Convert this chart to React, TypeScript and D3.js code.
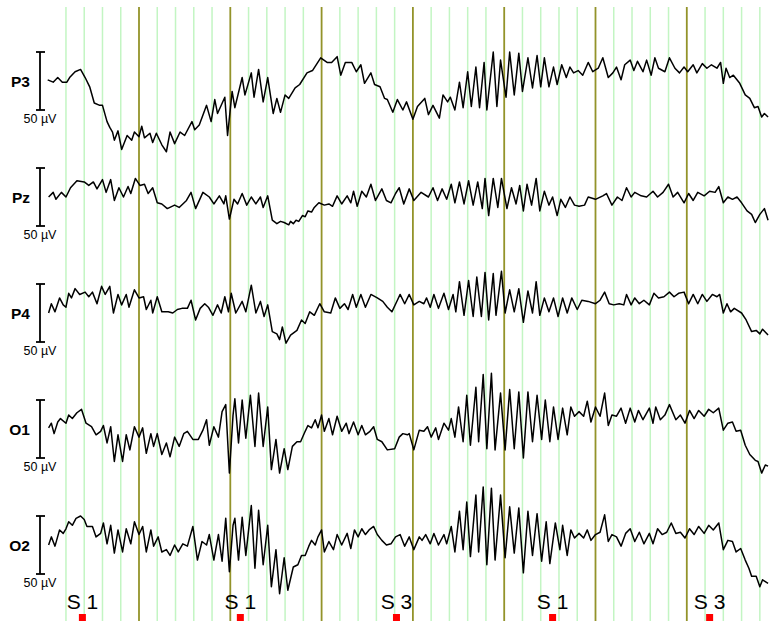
import * as d3 from "d3";

type Pt = [number, number]; // [seconds, µV]

const channelNames = ["P3", "Pz", "P4", "O1", "O2"];

const P3: Pt[] = [[0,1],[0.06,-1],[0.11,3],[0.16,-1],[0.21,-1],[0.24,3],[0.30,8],[0.36,10],[0.41,3],[0.46,-5],[0.51,-19],[0.57,-21],[0.60,-21],[0.65,-35],[0.68,-40],[0.71,-44],[0.73,-51],[0.77,-43],[0.81,-59],[0.87,-47],[0.92,-51],[0.95,-44],[1.00,-48],[1.03,-39],[1.06,-49],[1.12,-45],[1.15,-53],[1.19,-45],[1.25,-55],[1.30,-61],[1.34,-44],[1.39,-54],[1.45,-44],[1.50,-47],[1.58,-35],[1.61,-42],[1.66,-38],[1.74,-21],[1.79,-35],[1.83,-16],[1.86,-28],[1.94,-14],[1.97,-47],[2.02,-9],[2.05,-23],[2.13,3],[2.16,-12],[2.23,7],[2.26,-14],[2.31,10],[2.36,-18],[2.41,3],[2.47,-28],[2.51,-15],[2.55,-27],[2.60,-12],[2.64,-15],[2.71,-6],[2.76,-3],[2.84,7],[2.90,9],[2.99,20],[3.06,16],[3.11,16],[3.17,21],[3.21,5],[3.26,16],[3.33,16],[3.38,8],[3.43,14],[3.47,-2],[3.54,7],[3.58,-3],[3.64,-5],[3.69,-15],[3.72,-16],[3.78,-27],[3.83,-16],[3.89,-25],[3.93,-18],[4.00,-33],[4.05,-22],[4.13,-15],[4.17,-29],[4.22,-21],[4.29,-32],[4.33,-12],[4.38,-18],[4.41,-14],[4.46,-25],[4.51,-1],[4.55,-23],[4.60,8],[4.64,-22],[4.69,12],[4.73,-23],[4.78,16],[4.81,-25],[4.88,25],[4.92,-22],[4.96,18],[5.02,-14],[5.06,25],[5.11,-12],[5.16,24],[5.20,-9],[5.26,20],[5.31,-6],[5.36,22],[5.40,-5],[5.44,20],[5.49,-5],[5.54,12],[5.58,-3],[5.63,14],[5.68,3],[5.72,12],[5.76,7],[5.81,9],[5.86,5],[5.92,16],[5.97,8],[6.03,11],[6.08,20],[6.14,3],[6.19,7],[6.23,12],[6.28,1],[6.32,14],[6.38,18],[6.42,9],[6.46,17],[6.52,8],[6.56,18],[6.61,5],[6.65,20],[6.69,11],[6.76,8],[6.81,20],[6.87,11],[6.92,7],[6.97,12],[7.01,8],[7.07,14],[7.11,7],[7.17,15],[7.22,11],[7.27,14],[7.33,11],[7.37,16],[7.40,-2],[7.43,11],[7.47,3],[7.51,5],[7.58,-2],[7.64,-12],[7.69,-15],[7.74,-23],[7.78,-22],[7.82,-31],[7.85,-28],[7.89,-31]];

const Pz: Pt[] = [[0.01,0],[0.06,4],[0.09,-2],[0.15,4],[0.20,0],[0.25,8],[0.32,14],[0.40,13],[0.45,10],[0.50,13],[0.54,7],[0.60,15],[0.64,4],[0.69,15],[0.73,-3],[0.78,8],[0.83,0],[0.88,9],[0.91,3],[0.96,16],[1.01,10],[1.06,11],[1.10,3],[1.15,8],[1.20,-5],[1.25,-6],[1.31,-10],[1.39,-7],[1.44,-9],[1.52,-3],[1.57,4],[1.62,-10],[1.70,4],[1.77,0],[1.82,-6],[1.88,1],[1.93,-6],[1.95,1],[1.99,-19],[2.04,-2],[2.08,-6],[2.13,3],[2.18,-7],[2.23,0],[2.28,-6],[2.33,0],[2.36,-9],[2.41,1],[2.46,-20],[2.51,-23],[2.55,-21],[2.59,-22],[2.64,-24],[2.66,-21],[2.69,-23],[2.72,-20],[2.75,-21],[2.79,-16],[2.82,-17],[2.85,-12],[2.89,-13],[2.92,-9],[2.97,-5],[3.03,-7],[3.08,-6],[3.12,-8],[3.17,1],[3.22,-6],[3.28,1],[3.32,-5],[3.35,5],[3.39,-8],[3.44,5],[3.49,0],[3.54,11],[3.59,-3],[3.66,7],[3.71,-3],[3.76,-5],[3.81,3],[3.85,8],[3.90,-6],[3.96,7],[4.01,-3],[4.09,4],[4.17,0],[4.22,8],[4.27,-3],[4.32,7],[4.37,-2],[4.42,11],[4.46,-5],[4.51,13],[4.56,-6],[4.61,14],[4.66,-7],[4.71,13],[4.76,-10],[4.79,16],[4.83,-16],[4.88,16],[4.93,-9],[4.97,16],[5.03,-10],[5.08,8],[5.13,-6],[5.17,10],[5.21,-12],[5.25,11],[5.30,-7],[5.35,16],[5.39,-12],[5.44,5],[5.49,-7],[5.53,0],[5.58,-16],[5.62,-2],[5.67,-9],[5.72,0],[5.77,-7],[5.82,-8],[5.88,-7],[5.92,0],[6.00,-2],[6.08,1],[6.12,3],[6.18,-7],[6.24,0],[6.29,-3],[6.34,8],[6.39,0],[6.43,4],[6.50,1],[6.56,0],[6.63,5],[6.68,0],[6.74,4],[6.80,11],[6.85,0],[6.90,4],[6.97,-5],[7.02,3],[7.07,-3],[7.12,4],[7.19,1],[7.25,5],[7.31,4],[7.35,9],[7.40,-5],[7.45,0],[7.50,-2],[7.55,0],[7.60,-5],[7.66,-12],[7.71,-15],[7.75,-22],[7.80,-15],[7.85,-10],[7.89,-20]];

const P4: Pt[] = [[0.01,0],[0.04,8],[0.08,1],[0.13,13],[0.17,7],[0.20,5],[0.23,17],[0.26,13],[0.30,21],[0.35,16],[0.41,18],[0.45,14],[0.49,18],[0.54,8],[0.59,23],[0.63,16],[0.68,23],[0.72,0],[0.77,16],[0.81,7],[0.86,16],[0.89,5],[0.95,20],[1.00,13],[1.05,14],[1.08,3],[1.13,11],[1.15,0],[1.20,14],[1.25,1],[1.32,1],[1.37,0],[1.42,3],[1.47,4],[1.53,4],[1.57,11],[1.62,-6],[1.67,4],[1.72,8],[1.76,5],[1.81,-2],[1.86,7],[1.90,0],[1.94,14],[1.98,1],[2.01,17],[2.06,0],[2.13,10],[2.17,1],[2.23,24],[2.28,0],[2.33,10],[2.37,-3],[2.41,7],[2.46,-16],[2.51,-18],[2.54,-23],[2.57,-12],[2.61,-26],[2.66,-19],[2.73,-15],[2.78,-6],[2.82,-9],[2.87,1],[2.92,-2],[2.98,8],[3.03,1],[3.10,0],[3.15,13],[3.20,4],[3.25,8],[3.29,3],[3.34,16],[3.38,5],[3.43,16],[3.48,5],[3.54,16],[3.61,13],[3.67,10],[3.72,5],[3.77,1],[3.83,11],[3.86,16],[3.91,8],[3.96,16],[4.01,7],[4.07,10],[4.12,8],[4.15,13],[4.19,5],[4.23,16],[4.28,4],[4.34,17],[4.39,3],[4.44,16],[4.47,1],[4.51,27],[4.56,-2],[4.61,28],[4.66,-3],[4.70,31],[4.75,-3],[4.79,35],[4.83,-6],[4.88,34],[4.91,-2],[4.97,36],[5.01,0],[5.06,20],[5.11,1],[5.16,21],[5.21,-8],[5.26,19],[5.31,0],[5.35,27],[5.39,-2],[5.44,13],[5.49,1],[5.54,13],[5.59,-3],[5.64,13],[5.69,0],[5.74,13],[5.80,3],[5.85,11],[5.92,10],[6.00,8],[6.05,11],[6.10,18],[6.15,8],[6.20,7],[6.26,8],[6.31,7],[6.34,16],[6.39,7],[6.43,13],[6.48,8],[6.53,11],[6.59,7],[6.64,17],[6.69,13],[6.75,14],[6.81,18],[6.86,14],[6.91,17],[6.97,18],[7.02,8],[7.07,16],[7.12,8],[7.17,16],[7.22,10],[7.28,16],[7.33,14],[7.36,16],[7.40,0],[7.44,8],[7.48,1],[7.52,4],[7.60,0],[7.65,-6],[7.71,-16],[7.76,-15],[7.80,-18],[7.83,-14],[7.89,-19]];

const O1: Pt[] = [[0.01,1],[0.04,5],[0.07,-4],[0.11,6],[0.14,9],[0.20,5],[0.23,12],[0.27,9],[0.32,14],[0.37,17],[0.42,5],[0.48,2],[0.53,-5],[0.58,-2],[0.61,3],[0.65,-12],[0.69,2],[0.73,-28],[0.77,-5],[0.82,-28],[0.86,-5],[0.90,-18],[0.95,2],[1.00,-7],[1.04,1],[1.08,-21],[1.13,-4],[1.16,-15],[1.20,-4],[1.25,-22],[1.30,-12],[1.34,-24],[1.39,-7],[1.44,-15],[1.49,-4],[1.53,-2],[1.59,-9],[1.65,-9],[1.70,-1],[1.74,8],[1.77,-14],[1.82,2],[1.87,-7],[1.91,15],[1.95,21],[1.99,-38],[2.03,12],[2.05,26],[2.09,-12],[2.13,25],[2.17,-8],[2.22,29],[2.27,-15],[2.31,31],[2.36,-15],[2.41,19],[2.45,-35],[2.50,-9],[2.54,-38],[2.59,-17],[2.63,-35],[2.68,-15],[2.73,-11],[2.77,-11],[2.82,-2],[2.85,3],[2.89,1],[2.93,8],[2.96,1],[3.00,12],[3.03,-2],[3.08,9],[3.12,-5],[3.17,11],[3.22,-2],[3.27,5],[3.30,-4],[3.35,6],[3.40,-5],[3.44,3],[3.48,-5],[3.53,-2],[3.57,2],[3.61,-9],[3.66,-11],[3.72,-18],[3.80,-17],[3.85,-7],[3.89,-4],[3.94,-5],[3.96,-4],[4.01,-18],[4.07,-1],[4.12,-2],[4.16,2],[4.20,-7],[4.25,1],[4.28,-9],[4.34,5],[4.39,-1],[4.42,9],[4.46,-7],[4.50,19],[4.55,-11],[4.59,29],[4.63,-14],[4.69,36],[4.72,-11],[4.77,47],[4.81,-17],[4.86,48],[4.90,-18],[4.96,31],[5.01,-18],[5.06,34],[5.11,-17],[5.16,32],[5.21,-25],[5.26,32],[5.31,-11],[5.36,29],[5.41,-9],[5.45,25],[5.50,-11],[5.54,19],[5.59,-9],[5.64,18],[5.69,-5],[5.73,19],[5.77,11],[5.82,15],[5.87,11],[5.91,24],[5.95,6],[6.00,19],[6.05,11],[6.10,31],[6.14,3],[6.18,12],[6.23,11],[6.28,18],[6.33,5],[6.38,18],[6.43,6],[6.47,16],[6.52,8],[6.59,18],[6.63,5],[6.66,19],[6.71,8],[6.76,12],[6.81,21],[6.88,8],[6.93,12],[6.98,5],[7.03,16],[7.08,9],[7.13,16],[7.19,11],[7.24,17],[7.29,14],[7.35,18],[7.40,-1],[7.45,5],[7.50,6],[7.54,-2],[7.59,-1],[7.64,-14],[7.69,-22],[7.75,-27],[7.78,-28],[7.82,-38],[7.86,-31],[7.89,-32]];

const O2: Pt[] = [[0.01,0],[0.04,7],[0.08,-1],[0.13,13],[0.17,10],[0.20,14],[0.23,20],[0.27,17],[0.31,23],[0.36,25],[0.40,22],[0.43,16],[0.49,16],[0.53,7],[0.58,10],[0.61,19],[0.65,1],[0.69,17],[0.73,-7],[0.77,13],[0.82,-6],[0.86,14],[0.91,1],[0.95,20],[1.00,9],[1.04,16],[1.08,-6],[1.13,13],[1.16,-1],[1.21,7],[1.25,-6],[1.30,-4],[1.34,-9],[1.39,0],[1.43,-6],[1.48,1],[1.53,-1],[1.59,16],[1.64,-13],[1.69,3],[1.74,0],[1.77,9],[1.82,-13],[1.87,9],[1.91,-14],[1.95,23],[1.99,-23],[2.03,17],[2.05,23],[2.09,-13],[2.13,24],[2.17,-9],[2.23,34],[2.27,-20],[2.31,30],[2.36,-17],[2.41,17],[2.45,-36],[2.50,-4],[2.54,-42],[2.59,-11],[2.63,-39],[2.69,-19],[2.74,-17],[2.78,-9],[2.82,-9],[2.86,-1],[2.89,4],[2.93,0],[2.96,7],[3.00,13],[3.03,-6],[3.08,3],[3.13,-4],[3.17,9],[3.22,0],[3.28,10],[3.32,-3],[3.36,13],[3.40,7],[3.44,14],[3.48,9],[3.52,13],[3.57,16],[3.61,9],[3.66,4],[3.71,0],[3.76,1],[3.81,7],[3.86,9],[3.91,-1],[3.96,7],[4.01,-4],[4.07,7],[4.10,4],[4.14,9],[4.19,1],[4.23,10],[4.28,0],[4.34,9],[4.37,1],[4.42,16],[4.46,-6],[4.51,29],[4.55,-4],[4.59,37],[4.63,-10],[4.69,43],[4.72,-6],[4.77,50],[4.81,-17],[4.86,49],[4.90,-13],[4.96,43],[5.01,-11],[5.06,33],[5.11,-7],[5.16,32],[5.21,-24],[5.26,29],[5.31,-9],[5.36,27],[5.41,-14],[5.46,20],[5.50,-16],[5.56,19],[5.61,-4],[5.64,17],[5.69,-9],[5.73,13],[5.77,6],[5.82,10],[5.87,6],[5.91,13],[5.95,4],[6.00,9],[6.05,11],[6.10,26],[6.14,3],[6.18,9],[6.23,7],[6.28,-1],[6.33,10],[6.38,14],[6.43,3],[6.48,11],[6.53,1],[6.59,10],[6.63,1],[6.68,14],[6.73,9],[6.78,11],[6.83,19],[6.88,10],[6.93,11],[6.98,6],[7.03,14],[7.08,9],[7.13,16],[7.19,10],[7.24,17],[7.29,13],[7.35,19],[7.40,-4],[7.45,4],[7.50,3],[7.54,-6],[7.59,-3],[7.64,-13],[7.68,-20],[7.71,-27],[7.76,-27],[7.80,-36],[7.83,-30],[7.89,-33]];

const channelData = [P3, Pz, P4, O1, O2];

// stimulus markers
const markerTimes = [0.38, 2.11, 3.82, 5.53, 7.25];
const markerLabels = ["S 1", "S 1", "S 3", "S 1", "S 3"];

const scaleBarUV = 50;

export default function App() {
  const W = 769, H = 621;
  const x = d3.scaleLinear().domain([0, 8]).range([47.7, 47.7 + 8 * 91.3]);
  const centers = channelNames.map((_, i) => 81 + i * 116);
  const gridTicks = d3.range(1, 40).map((k) => k * 0.2);

  return (
    <div style={{ position: "fixed", left: 0, top: 0 }}>
      <svg width={W} height={H} style={{ display: "block", background: "#fff" }} fontFamily="Liberation Sans, Arial, sans-serif">
        {gridTicks.map((t, k) => {
          const major = (k + 1) % 5 === 0;
          return (
            <line key={k} x1={x(t)} x2={x(t)} y1={7} y2={H}
              stroke={major ? "#93932a" : "#c3f5c3"} strokeWidth={major ? 1.8 : 1.5} />
          );
        })}
        {channelData.map((data, i) => {
          const c = centers[i];
          const y = d3.scaleLinear().domain([-scaleBarUV / 2, scaleBarUV / 2]).range([c + 29, c - 29]);
          const line = d3.line<Pt>().x((d) => x(d[0])).y((d) => y(d[1]));
          return (
            <g key={channelNames[i]}>
              <path d={line(data) || ""} fill="none" stroke="#000" strokeWidth={1.5} strokeLinejoin="round" />
              <line x1={40} x2={40} y1={y(25)} y2={y(-25)} stroke="#000" strokeWidth={1.8} />
              <line x1={36} x2={45} y1={y(25)} y2={y(25)} stroke="#000" strokeWidth={1.8} />
              <line x1={36} x2={45} y1={y(-25)} y2={y(-25)} stroke="#000" strokeWidth={1.8} />
              <text x={30} y={c + 6} textAnchor="end" fontSize={15.5} fontWeight="bold">{channelNames[i]}</text>
              <text x={40} y={y(-25) + 13} textAnchor="middle" fontSize={12.5}>{`${scaleBarUV} µV`}</text>
            </g>
          );
        })}
        {markerTimes.map((t, i) => (
          <g key={i}>
            <text x={x(t)} y={609} textAnchor="middle" fontSize={21}>{markerLabels[i]}</text>
            <rect x={x(t) - 3.5} y={614} width={7} height={7} fill="#ff0000" />
          </g>
        ))}
      </svg>
    </div>
  );
}
